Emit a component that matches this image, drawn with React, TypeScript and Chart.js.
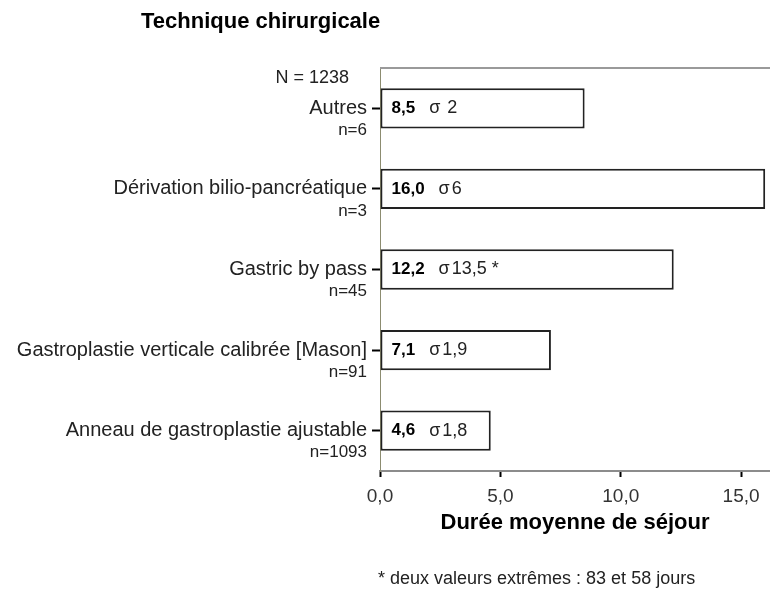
import React, { useEffect, useRef } from "react";
import { Chart, registerables } from "chart.js";

Chart.register(...registerables);

// ---- data ----
const categories = [
  "Autres",
  "Dérivation bilio-pancréatique",
  "Gastric by pass",
  "Gastroplastie verticale calibrée [Mason]",
  "Anneau de gastroplastie ajustable",
];
const counts = [6, 3, 45, 91, 1093];
const meanStay = [8.5, 16.0, 12.2, 7.1, 4.6];
const sdLabels = [" 2", "6", "13,5 *", "1,9", "1,8"];
const xTickValues = [0, 5, 10, 15];
const xTickLabels = ["0,0", "5,0", "10,0", "15,0"];
const chartTitle = "Technique chirurgicale";
const xAxisTitle = "Durée moyenne de séjour";
const footnote = "* deux valeurs extrêmes : 83 et 58 jours";

const FONT = '"Liberation Sans", Arial, sans-serif';
const fmt = (v: number) => v.toFixed(1).replace(".", ",");
const total = counts.reduce((a, b) => a + b, 0);

const annotate = {
  id: "annotate",
  afterDraw(chart: any) {
    const { ctx, chartArea } = chart;
    ctx.save();
    // top frame line
    ctx.strokeStyle = "#9a9a9a";
    ctx.lineWidth = 2;
    ctx.beginPath();
    ctx.moveTo(chartArea.left, chartArea.top);
    ctx.lineTo(chartArea.right, chartArea.top);
    ctx.stroke();

    // title
    ctx.fillStyle = "#000";
    ctx.font = `bold 22px ${FONT}`;
    ctx.textAlign = "left";
    ctx.textBaseline = "alphabetic";
    ctx.fillText(chartTitle, 141, 28);

    // N total
    ctx.fillStyle = "#222";
    ctx.font = `18px ${FONT}`;
    ctx.textAlign = "right";
    ctx.textBaseline = "middle";
    ctx.fillText("N = " + total, 349, 78);

    // n per category, under each category label
    const yScale = chart.scales.y;
    ctx.font = `17px ${FONT}`;
    categories.forEach((_, i) => {
      const ty = yScale.getPixelForTick(i);
      ctx.fillText("n=" + counts[i], 367, ty + 22);
    });

    // footnote
    ctx.font = `18px ${FONT}`;
    ctx.textAlign = "left";
    ctx.fillText(footnote, 378, 579);

    // bar labels
    const meta = chart.getDatasetMeta(0);
    meta.data.forEach((bar: any, i: number) => {
      const x0 = Math.min(bar.base, bar.x) + 11;
      const y = bar.y;
      ctx.fillStyle = "#000";
      ctx.font = `bold 17px ${FONT}`;
      ctx.textAlign = "left";
      ctx.textBaseline = "middle";
      const v = fmt(meanStay[i]);
      ctx.fillText(v, x0, y);
      const w = ctx.measureText(v).width;
      ctx.fillStyle = "#222";
      ctx.font = `18px ${FONT}`;
      const sx = x0 + w + 14;
      ctx.fillText("σ", sx, y);
      const sw = ctx.measureText("σ").width;
      ctx.fillText(sdLabels[i], sx + sw + 2, y);
    });
    ctx.restore();
  },
};

export default function App() {
  const ref = useRef<HTMLCanvasElement | null>(null);
  useEffect(() => {
    if (!ref.current) return;
    Chart.defaults.font.family = FONT;
    const chart = new Chart(ref.current, {
      type: "bar",
      data: {
        labels: categories,
        datasets: [
          {
            data: meanStay,
            backgroundColor: "#ffffff",
            borderColor: "#222222",
            borderWidth: 2,
            borderSkipped: false,
            barPercentage: 0.5,
            categoryPercentage: 1,
          },
        ],
      },
      options: {
        indexAxis: "y",
        responsive: false,
        devicePixelRatio: 1,
        animation: false,
        layout: { padding: { top: 68, left: 0, right: 0, bottom: 0 } },
        plugins: {
          legend: { display: false },
          tooltip: { enabled: false },
        },
        scales: {
          x: {
            type: "linear",
            min: 0,
            max: 16.2,
            afterBuildTicks: (scale: any) => {
              scale.ticks = xTickValues.map((v) => ({ value: v }));
            },
            ticks: {
              callback: (v: any) => {
                const k = xTickValues.indexOf(Number(v));
                return k >= 0 ? xTickLabels[k] : "";
              },
              font: { size: 19 },
              color: "#333",
              padding: 8,
              maxRotation: 0,
              autoSkip: false,
            },
            grid: {
              drawOnChartArea: false,
              drawTicks: true,
              tickLength: 6,
              tickColor: "#000",
              tickWidth: 2,
            },
            border: { display: true, color: "#8c8c8c", width: 2 },
            title: {
              display: true,
              text: xAxisTitle,
              font: { size: 22, weight: "bold" },
              color: "#000",
              padding: { top: 4, bottom: 58 },
            },
            afterFit: (scale: any) => {
              scale.height = 123;
            },
          },
          y: {
            type: "category",
            offset: true,
            ticks: {
              font: { size: 20 },
              color: "#222",
              padding: 5,
              autoSkip: false,
            },
            grid: {
              drawOnChartArea: false,
              drawTicks: true,
              tickLength: 8,
              tickColor: "#000",
              tickWidth: 2,
              offset: false,
            },
            border: { display: true, color: "#8c8c70", width: 1 },
            afterFit: (scale: any) => {
              scale.width = 380;
            },
          },
        },
      } as any,
      plugins: [annotate],
    });
    return () => chart.destroy();
  }, []);

  return (
    <div style={{ position: "absolute", left: 0, top: 0, width: 770, height: 594, background: "#fff" }}>
      <canvas ref={ref} width={770} height={594} style={{ display: "block" }} />
    </div>
  );
}
